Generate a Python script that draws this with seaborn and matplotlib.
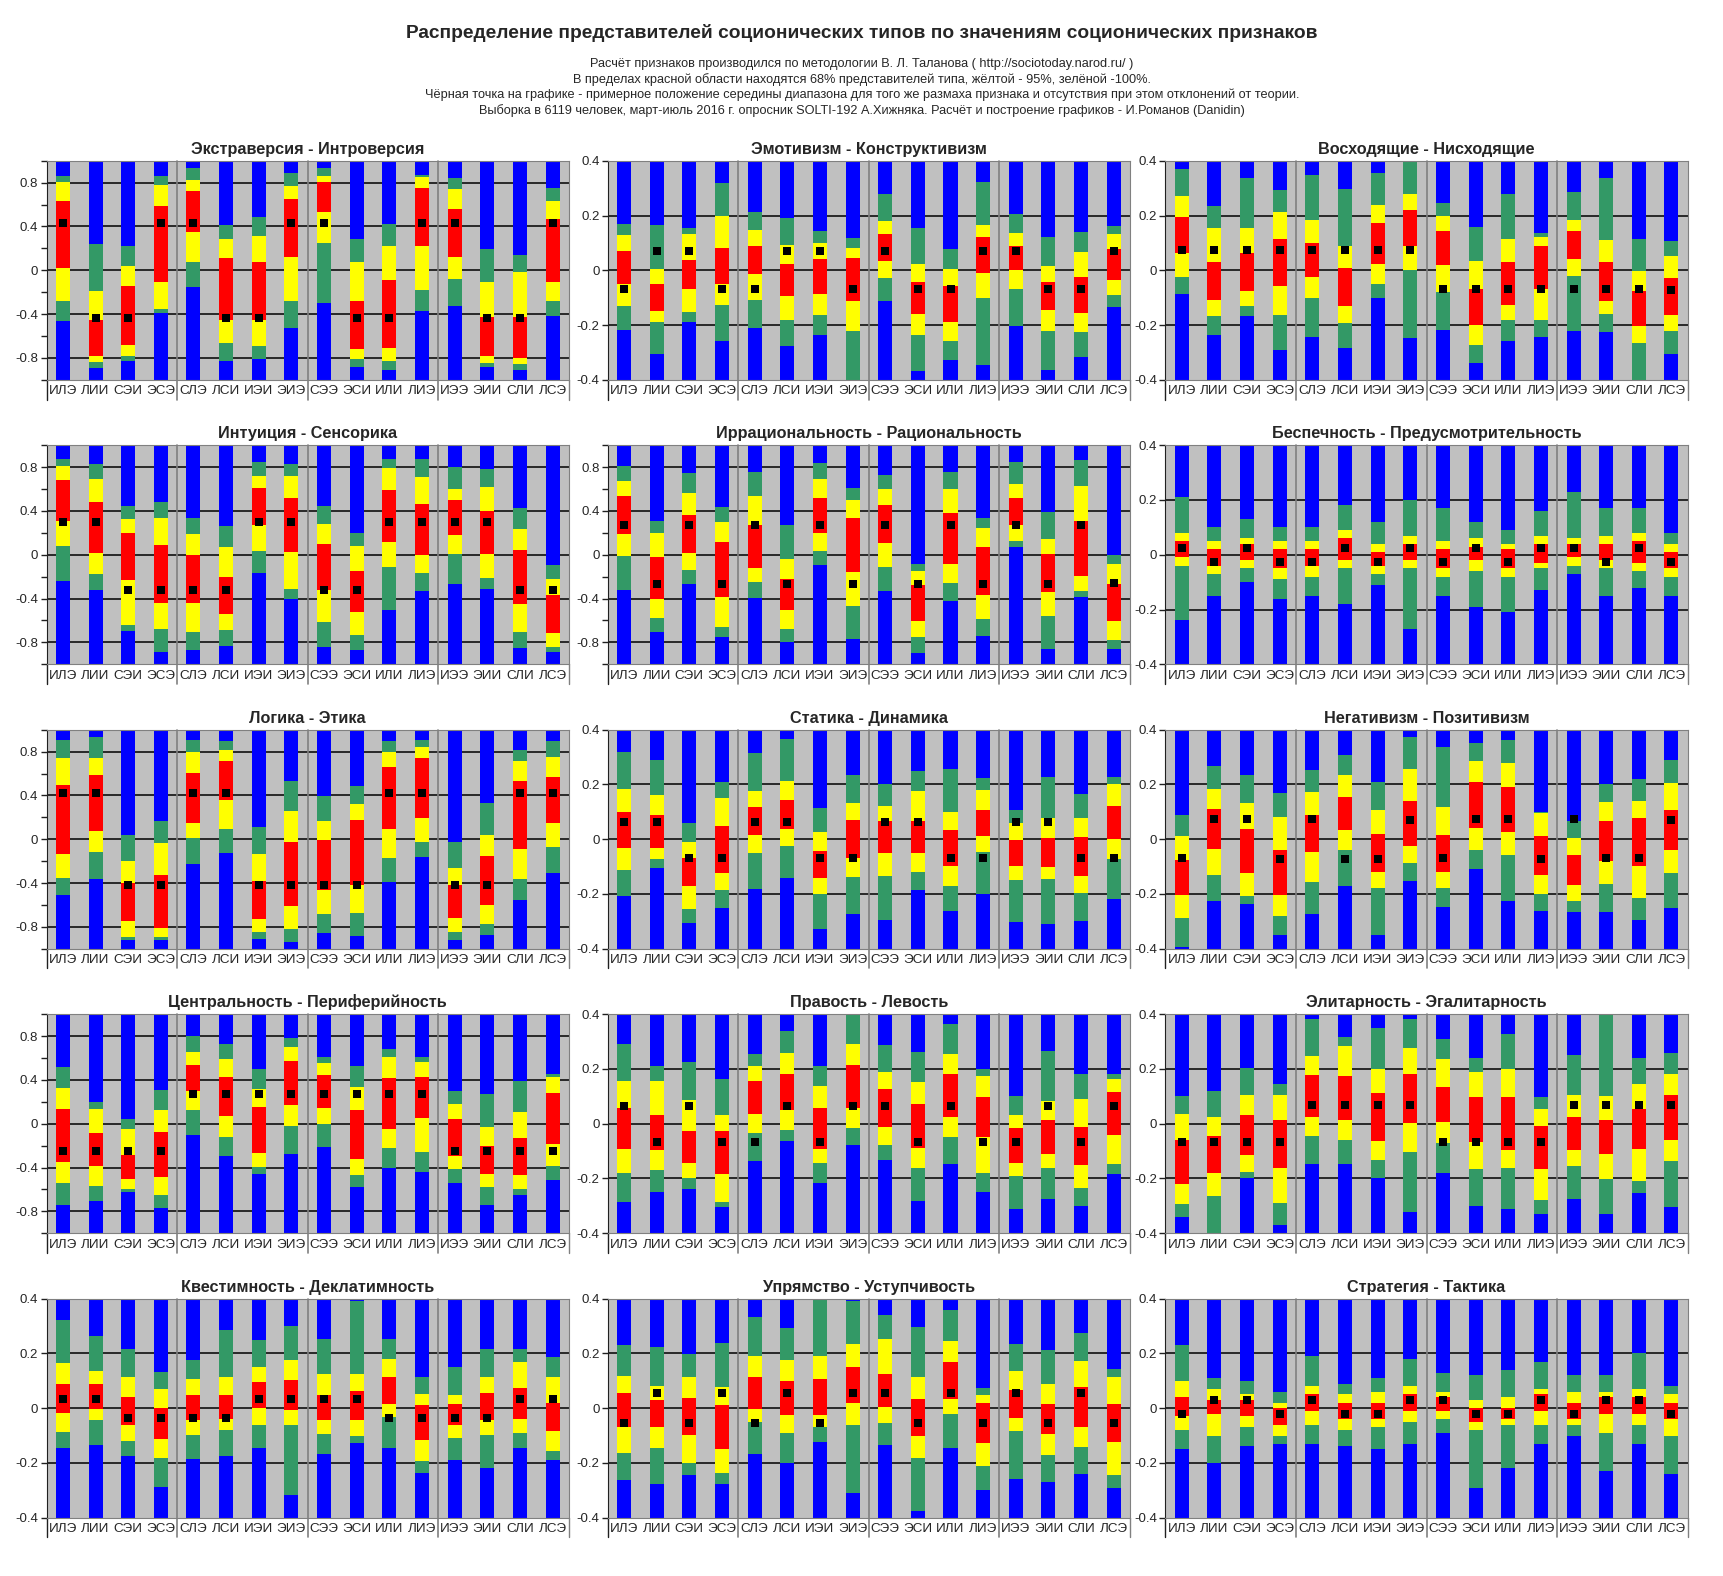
import numpy as np
import matplotlib
matplotlib.use('Agg')
import matplotlib.pyplot as plt
import seaborn as sns

sns.set_style('ticks')
plt.rcParams['font.family'] = ['Liberation Sans', 'DejaVu Sans']

### types on the x axis of every panel
types = ['ИЛЭ', 'ЛИИ', 'СЭИ', 'ЭСЭ', 'СЛЭ', 'ЛСИ', 'ИЭИ', 'ЭИЭ',
         'СЭЭ', 'ЭСИ', 'ИЛИ', 'ЛИЭ', 'ИЭЭ', 'ЭИИ', 'СЛИ', 'ЛСЭ']

### each row: green top, yellow top, red top, red bottom, yellow bottom, green bottom, black dot
ext_intro = [
    [.86, .81, .63, .02, -.28, -.46, .43], [.24, -.19, -.45, -.78, -.84, -.89, -.44],
    [.22, .04, -.14, -.68, -.78, -.83, -.44], [.86, .78, .59, -.11, -.35, -.39, .43],
    [.93, .82, .72, .35, .08, -.15, .43], [.41, .29, .11, -.45, -.66, -.83, -.44],
    [.49, .31, .08, -.45, -.69, -.81, -.44], [.89, .77, .65, .12, -.28, -.53, .43],
    [.93, .86, .81, .53, .25, -.30, .43], [.29, .08, -.28, -.72, -.81, -.88, -.44],
    [.42, .22, -.09, -.71, -.83, -.91, -.44], [.87, .85, .75, .22, -.18, -.37, .43],
    [.84, .74, .56, .12, -.08, -.33, .43], [.19, -.11, -.43, -.78, -.85, -.88, -.44],
    [.14, -.02, -.43, -.80, -.86, -.91, -.44], [.75, .63, .47, -.11, -.28, -.42, .43]]

emot_constr = [
    [.168, .13, .069, -.051, -.13, -.217, -.07], [.164, .005, -.051, -.149, -.188, -.306, .07],
    [.155, .133, .037, -.07, -.152, -.188, .07], [.319, .198, .083, -.049, -.127, -.26, -.07],
    [.212, .148, .09, -.013, -.11, -.21, -.07], [.19, .094, .023, -.095, -.18, -.277, .07],
    [.144, .098, .04, -.088, -.163, -.235, .07], [.119, .083, .044, -.113, -.22, -.40, -.07],
    [.28, .18, .133, .033, -.027, -.113, .07], [.155, .023, -.042, -.16, -.238, -.367, -.07],
    [.076, .005, -.056, -.188, -.26, -.327, -.07], [.323, .165, .123, -.01, -.102, -.345, .07],
    [.205, .137, .09, 0, -.067, -.202, .07], [.123, .015, -.042, -.145, -.22, -.363, -.07],
    [.14, .065, -.024, -.156, -.224, -.317, -.07], [.162, .133, .076, -.035, -.092, -.135, .07]]

asc_desc = [
    [.369, .273, .194, .064, -.024, -.085, .075], [.233, .155, .03, -.11, -.167, -.235, .075],
    [.337, .155, .064, -.074, -.131, -.167, .075], [.294, .212, .115, -.056, -.163, -.292, .075],
    [.348, .183, .101, -.024, -.102, -.245, .075], [.298, .09, .008, -.131, -.192, -.285, .075],
    [.355, .24, .173, .023, -.049, -.102, .075], [.40, .28, .219, .087, 0, -.249, .075],
    [.244, .198, .144, .019, -.081, -.217, -.07], [.158, .033, -.067, -.199, -.274, -.338, -.07],
    [.28, .115, .03, -.127, -.181, -.26, -.07], [.137, .123, .09, -.07, -.181, -.242, -.07],
    [.287, .183, .144, .04, -.02, -.22, -.07], [.337, .112, .03, -.113, -.16, -.227, -.07],
    [.115, -.002, -.074, -.202, -.267, -.40, -.07], [.108, .051, -.027, -.163, -.22, -.306, -.072]]

intu_sens = [
    [.872, .809, .683, .304, .078, -.238, .30], [.827, .692, .484, .015, -.174, -.319, .30],
    [.448, .322, .195, -.229, -.644, -.698, -.32], [.484, .331, .087, -.436, -.68, -.887, -.32],
    [.331, .186, -.003, -.436, -.707, -.869, -.32], [.259, .069, -.20, -.544, -.689, -.833, -.32],
    [.845, .719, .61, .268, .033, -.165, .30], [.827, .719, .52, .024, -.31, -.40, .30],
    [.448, .277, .096, -.319, -.617, -.842, -.32], [.195, .078, -.147, -.526, -.734, -.869, -.32],
    [.872, .791, .592, .114, -.111, -.508, .30], [.872, .71, .466, -.003, -.165, -.328, .30],
    [.80, .601, .502, .177, .006, -.265, .30], [.782, .62, .403, .006, -.211, -.31, .30],
    [.43, .232, .042, -.454, -.707, -.851, -.32], [-.093, -.22, -.364, -.716, -.842, -.887, -.32]]

irr_rat = [
    [.809, .674, .538, .186, -.012, -.319, .27], [.304, .195, -.021, -.40, -.58, -.707, -.27],
    [.746, .565, .367, .015, -.138, -.265, .27], [.439, .295, .114, -.382, -.662, -.752, -.27],
    [.755, .538, .268, -.12, -.247, -.391, .27], [.268, -.039, -.22, -.508, -.68, -.797, -.27],
    [.836, .692, .52, .195, .033, -.093, .27], [.61, .502, .331, -.156, -.472, -.77, -.27],
    [.728, .601, .457, .105, -.111, -.328, .27], [-.084, -.147, -.274, -.608, -.752, -.896, -.27],
    [.755, .601, .385, -.084, -.256, -.418, .27], [.34, .241, .069, -.364, -.589, -.743, -.27],
    [.845, .647, .52, .268, .123, .069, .27], [.394, .141, .006, -.337, -.562, -.86, -.27],
    [.863, .629, .304, -.192, -.328, -.382, .27], [-.003, -.084, -.265, -.608, -.779, -.86, -.26]]

care_prud = [
    [.21, .08, .05, -.01, -.04, -.24, .025], [.10, .05, .02, -.04, -.07, -.15, -.025],
    [.13, .06, .04, -.02, -.05, -.10, .025], [.10, .05, .02, -.05, -.09, -.16, -.025],
    [.10, .05, .02, -.04, -.08, -.15, -.025], [.18, .09, .06, -.02, -.05, -.18, .025],
    [.12, .04, .01, -.04, -.07, -.11, -.025], [.20, .07, .04, -.02, -.05, -.27, .025],
    [.17, .05, .02, -.05, -.08, -.15, -.025], [.12, .06, .03, -.02, -.06, -.19, .025],
    [.09, .04, .02, -.05, -.08, -.21, -.025], [.16, .07, .04, -.03, -.05, -.13, .025],
    [.23, .06, .04, -.01, -.04, -.07, .025], [.17, .07, .04, -.02, -.05, -.15, -.025],
    [.17, .08, .05, -.03, -.06, -.12, .025], [.08, .04, .01, -.05, -.08, -.15, -.025]]

logic_ethic = [
    [.909, .737, .492, -.133, -.35, -.505, .42], [.937, .746, .583, .076, -.115, -.36, .42],
    [.039, -.196, -.396, -.749, -.894, -.921, -.42], [.166, -.033, -.323, -.813, -.894, -.921, -.42],
    [.909, .792, .601, .148, .012, -.224, .42], [.90, .819, .71, .356, .094, -.124, .42],
    [.112, -.133, -.378, -.731, -.849, -.912, -.42], [.529, .257, -.024, -.613, -.822, -.94, -.42],
    [.393, .166, -.006, -.468, -.686, -.858, -.42], [.483, .32, .175, -.414, -.677, -.885, -.42],
    [.90, .80, .656, .094, -.169, -.387, .42], [.909, .846, .737, .193, -.024, -.16, .42],
    [-.024, -.26, -.414, -.722, -.849, -.921, -.42], [.329, .039, -.151, -.604, -.776, -.876, -.42],
    [.819, .71, .529, -.088, -.36, -.559, .42], [.90, .755, .565, .148, -.069, -.305, .42]]

stat_dyn = [
    [.319, .183, .101, -.031, -.113, -.206, .062], [.29, .162, .09, -.031, -.074, -.106, .062],
    [.058, -.01, -.07, -.17, -.256, -.306, -.067], [.208, .151, .048, -.124, -.185, -.252, -.067],
    [.315, .176, .119, .015, -.052, -.181, .062], [.365, .212, .144, .037, -.024, -.142, .062],
    [.115, .026, -.042, -.142, -.199, -.327, -.067], [.233, .133, .069, -.067, -.138, -.274, -.067],
    [.201, .123, .065, -.049, -.135, -.295, .062], [.248, .176, .065, -.052, -.12, -.185, .062],
    [.255, .098, .033, -.099, -.17, -.263, -.067], [.223, .18, .108, .012, -.045, -.199, -.067],
    [.108, .058, -.002, -.099, -.149, -.302, .062], [.226, .076, .005, -.102, -.145, -.31, .062],
    [.165, .076, .008, -.135, -.195, -.299, -.067], [.226, .201, .123, .001, -.074, -.22, -.067]]

neg_pos = [
    [.087, .012, -.077, -.202, -.288, -.395, -.07], [.269, .183, .112, -.035, -.131, -.227, .073],
    [.233, .133, .037, -.124, -.206, -.235, .073], [.169, .08, -.038, -.202, -.281, -.349, -.073],
    [.251, .173, .09, -.045, -.156, -.274, .073], [.308, .233, .155, .033, -.038, -.17, -.073],
    [.208, .105, .019, -.12, -.177, -.349, -.073], [.373, .258, .14, -.024, -.088, -.152, .07],
    [.337, .119, .015, -.12, -.177, -.249, -.07], [.351, .287, .208, .04, -.038, -.11, .073],
    [.362, .28, .19, .026, -.056, -.224, .073], [.098, .094, .012, -.131, -.199, -.263, -.073],
    [.065, .005, -.056, -.167, -.224, -.267, .073], [.201, .137, .065, -.081, -.163, -.267, -.07],
    [.219, .14, .076, -.099, -.213, -.295, -.07], [.29, .205, .105, -.038, -.124, -.252, .07]]

centr_periph = [
    [.52, .329, .13, -.35, -.541, -.74, -.25], [.202, .13, -.088, -.387, -.568, -.704, -.25],
    [.039, -.051, -.287, -.505, -.595, -.622, -.25], [.311, .121, -.079, -.486, -.65, -.767, -.25],
    [.80, .656, .538, .302, .121, -.106, .27], [.728, .592, .429, .066, -.124, -.296, .27],
    [.502, .32, .148, -.269, -.396, -.459, .27], [.782, .701, .574, .175, -.024, -.278, .27],
    [.61, .556, .447, .139, -.006, -.215, .27], [.529, .338, .121, -.323, -.468, -.577, .27],
    [.683, .61, .42, -.051, -.224, -.405, .27], [.61, .565, .429, .048, -.26, -.441, .27],
    [.302, .184, .039, -.296, -.414, -.541, -.25], [.275, -.033, -.205, -.459, -.577, -.74, -.25],
    [.393, .103, -.133, -.468, -.595, -.65, -.25], [.456, .429, .284, -.187, -.387, -.514, -.25]]

right_left = [
    [.29, .155, .058, -.092, -.181, -.285, .065], [.212, .155, .033, -.095, -.17, -.249, -.067],
    [.226, .087, -.027, -.145, -.199, -.238, .065], [.162, .033, -.027, -.185, -.285, -.306, -.067],
    [.255, .212, .155, .037, -.035, -.138, -.067], [.34, .258, .183, .051, -.024, -.063, .065],
    [.212, .137, .058, -.092, -.145, -.217, -.067], [.398, .29, .215, .058, -.017, -.077, .065],
    [.287, .19, .126, -.013, -.077, -.131, .065], [.262, .151, .073, -.088, -.16, -.281, -.067],
    [.365, .255, .183, .023, -.049, -.149, .065], [.198, .173, .098, -.049, -.181, -.249, -.067],
    [.101, .03, -.017, -.145, -.192, -.31, -.067], [.265, .083, .015, -.11, -.16, -.274, .065],
    [.18, .09, -.013, -.152, -.235, -.299, -.067], [.18, .162, .115, -.042, -.149, -.185, .065]]

elit_egal = [
    [.101, .037, -.06, -.22, -.292, -.342, -.067], [.119, .026, -.045, -.181, -.263, -.398, -.067],
    [.205, .105, .033, -.113, -.177, -.199, -.067], [.144, .105, .015, -.16, -.288, -.37, -.067],
    [.383, .248, .176, .026, -.045, -.149, .07], [.315, .283, .173, .015, -.06, -.149, .07],
    [.348, .198, .112, -.063, -.131, -.199, .07], [.383, .276, .18, .001, -.102, -.324, .07],
    [.308, .237, .133, .005, -.07, -.181, -.067], [.24, .187, .098, -.067, -.167, -.302, -.067],
    [.326, .201, .098, -.095, -.163, -.31, -.067], [.098, .055, -.01, -.167, -.277, -.331, -.067],
    [.251, .105, .023, -.095, -.156, -.274, .07], [.40, .101, .015, -.11, -.202, -.331, .07],
    [.24, .144, .055, -.092, -.21, -.252, .07], [.258, .18, .105, -.06, -.135, -.306, .07]]

quest_decl = [
    [.323, .165, .087, -.017, -.088, -.145, .035], [.265, .137, .087, -.002, -.045, -.135, .035],
    [.215, .115, .04, -.06, -.12, -.174, -.035], [.133, .069, .001, -.113, -.181, -.288, -.035],
    [.176, .108, .048, -.045, -.099, -.185, -.035], [.287, .115, .048, -.038, -.081, -.174, -.035],
    [.248, .151, .094, .001, -.06, -.145, .035], [.301, .176, .101, -.006, -.06, -.317, .035],
    [.251, .123, .048, -.045, -.095, -.167, .035], [.39, .123, .062, -.042, -.102, -.127, .035],
    [.251, .18, .112, .015, -.031, -.145, -.035], [.115, .051, .012, -.117, -.192, -.238, -.035],
    [.151, .048, .015, -.06, -.11, -.188, -.035], [.215, .112, .055, -.045, -.099, -.22, -.035],
    [.215, .169, .073, -.038, -.092, -.145, .035], [.187, .112, .019, -.085, -.156, -.188, .035]]

stub_yield = [
    [.23, .119, .055, -.07, -.163, -.263, -.055], [.223, .08, .03, -.07, -.145, -.277, .055],
    [.198, .112, .037, -.099, -.202, -.245, -.055], [.237, .076, .012, -.149, -.235, -.277, .055],
    [.333, .19, .115, -.002, -.052, -.167, -.055], [.294, .176, .098, -.024, -.092, -.199, .055],
    [.398, .19, .105, -.024, -.067, -.124, -.055], [.39, .233, .151, .019, -.063, -.31, .055],
    [.34, .251, .126, .005, -.056, -.135, .055], [.298, .115, .033, -.102, -.181, -.374, -.055],
    [.358, .244, .169, .033, -.02, -.145, .055], [.073, .048, .019, -.127, -.213, -.299, -.055],
    [.233, .137, .065, -.035, -.085, -.26, .055], [.212, .087, .015, -.095, -.17, -.27, -.055],
    [.276, .173, .076, -.067, -.142, -.242, .055], [.144, .112, .015, -.124, -.245, -.292, -.055]]

strat_tact = [
    [.23, .10, .04, -.03, -.08, -.15, -.02], [.11, .07, .03, -.02, -.10, -.20, .03],
    [.10, .05, .03, -.03, -.07, -.14, .03], [.06, .02, 0, -.06, -.10, -.13, -.02],
    [.19, .08, .05, -.01, -.06, -.13, .03], [.09, .05, .02, -.04, -.08, -.14, -.02],
    [.11, .06, .02, -.04, -.07, -.15, -.02], [.18, .08, .05, -.01, -.05, -.13, .03],
    [.13, .06, .04, -.01, -.04, -.09, .03], [.12, .03, 0, -.05, -.08, -.29, -.02],
    [.14, .04, 0, -.04, -.06, -.22, -.02], [.17, .07, .05, -.01, -.06, -.13, .03],
    [.12, .06, .02, -.04, -.06, -.10, -.02], [.12, .06, .04, -.02, -.09, -.23, .03],
    [.20, .07, .04, -.02, -.06, -.13, .03], [.08, .05, .02, -.04, -.10, -.24, -.02]]

titles = ['Экстраверсия - Интроверсия', 'Эмотивизм - Конструктивизм', 'Восходящие - Нисходящие',
          'Интуиция - Сенсорика', 'Иррациональность - Рациональность', 'Беспечность - Предусмотрительность',
          'Логика - Этика', 'Статика - Динамика', 'Негативизм - Позитивизм',
          'Центральность - Периферийность', 'Правость - Левость', 'Элитарность - Эгалитарность',
          'Квестимность - Деклатимность', 'Упрямство - Уступчивость', 'Стратегия - Тактика']
limits = [1, .4, .4, 1, 1, .4, 1, .4, .4, 1, .4, .4, .4, .4, .4]
panel_data = [ext_intro, emot_constr, asc_desc, intu_sens, irr_rat, care_prud, logic_ethic,
              stat_dyn, neg_pos, centr_periph, right_left, elit_egal, quest_decl, stub_yield, strat_tact]

BLUE, GREEN, YELLOW, RED, GRAY = '#0000FF', '#339966', '#FFFF00', '#FF0000', '#C0C0C0'


def tick_label(t):
    r = round(t, 1)
    if abs(r) < 1e-9:
        r = 0.0
    return '{:g}'.format(r)


def draw_panel(ax, title, lim, rows):
    rows = np.array(rows)
    g_hi, y_hi, r_hi, r_lo, y_lo, g_lo, dot = rows.T
    ax.set_facecolor(GRAY)

    if lim == 1:
        grid_vals = [0.8, 0.4, 0, -0.4, -0.8]
        ticks = np.arange(-1, 1.001, 0.2)
        labels = [tick_label(t) if (round(abs(t) * 10) % 4 == 0 and abs(t) < 0.99) else '' for t in ticks]
    else:
        grid_vals = [0.4, 0.2, 0, -0.2]
        ticks = np.arange(-0.4, 0.401, 0.2)
        labels = [tick_label(t) for t in ticks]
    for v in grid_vals:
        ax.axhline(v, color='black', lw=1.1, zorder=0.5)

    ## layered bars from the bottom: each one covers the part below the next band edge
    layers = [(np.full(16, lim), BLUE), (g_hi, GREEN), (y_hi, YELLOW), (r_hi, RED),
              (r_lo, YELLOW), (y_lo, GREEN), (g_lo, BLUE)]
    for tops, col in layers:
        sns.barplot(x=types, y=tops + lim, order=types, color=col, saturation=1, width=0.43,
                    bottom=-lim, errorbar=None, linewidth=0, ax=ax, zorder=2)

    sns.scatterplot(x=np.arange(16), y=dot, marker='s', color='black', s=40, linewidth=0,
                    ax=ax, zorder=5, legend=False)

    ax.set_xlim(-0.5, 15.5)
    ax.set_ylim(-lim, lim)
    ax.set_yticks(ticks)
    ax.set_yticklabels(labels)
    ax.set_xlabel('')
    ax.set_ylabel('')
    ax.tick_params(axis='y', left=True, length=4, width=1, direction='out', labelsize=9.5, pad=2,
                   color='#202020')
    ax.tick_params(axis='x', bottom=False, length=0, labelsize=9.7, pad=4)
    for s in ['top', 'right', 'bottom']:
        ax.spines[s].set_color('#808080')
    ax.spines['left'].set_color('#202020')

    ## group separators run down through the label row
    tr = ax.get_xaxis_transform()
    for xv in [3.5, 7.5, 11.5]:
        ax.plot([xv, xv], [-0.09, 1], transform=tr, color='#808080', lw=1.2, clip_on=False, zorder=3)
    ax.plot([-0.5, -0.5], [-0.09, 0], transform=tr, color='#202020', lw=1, clip_on=False)
    ax.plot([15.5, 15.5], [-0.09, 0], transform=tr, color='#808080', lw=1, clip_on=False)

    ax.set_title(title, fontsize=11.7, fontweight='bold', pad=5)


fig = plt.figure(figsize=(17.24, 15.76), dpi=100)

col_left = [0.027, 0.3525, 0.676]
row_bottom = [0.759, 0.5785, 0.398, 0.2175, 0.037]
w, h = 0.303, 0.139

for i in range(15):
    r, c = divmod(i, 3)
    ax = fig.add_axes([col_left[c], row_bottom[r], w, h])
    draw_panel(ax, titles[i], limits[i], panel_data[i])

fig.text(0.5, 0.979, 'Распределение представителей соционических типов по значениям соционических признаков',
         ha='center', va='center', fontsize=13.8, fontweight='bold')
sub_lines = ['Расчёт признаков производился по методологии В. Л. Таланова ( http://sociotoday.narod.ru/ )',
             'В пределах красной области находятся 68% представителей типа, жёлтой - 95%, зелёной -100%.',
             'Чёрная точка на графике - примерное положение середины диапазона для того же размаха признака и отсутствия при этом отклонений от теории.',
             'Выборка в 6119 человек, март-июль 2016 г. опросник SOLTI-192 А.Хижняка. Расчёт и построение графиков - И.Романов (Danidin)']
for k, line in enumerate(sub_lines):
    fig.text(0.5, 0.9595 - k * 0.0099, line, ha='center', va='center', fontsize=9.2)

fig.savefig('out.png', dpi=100)
